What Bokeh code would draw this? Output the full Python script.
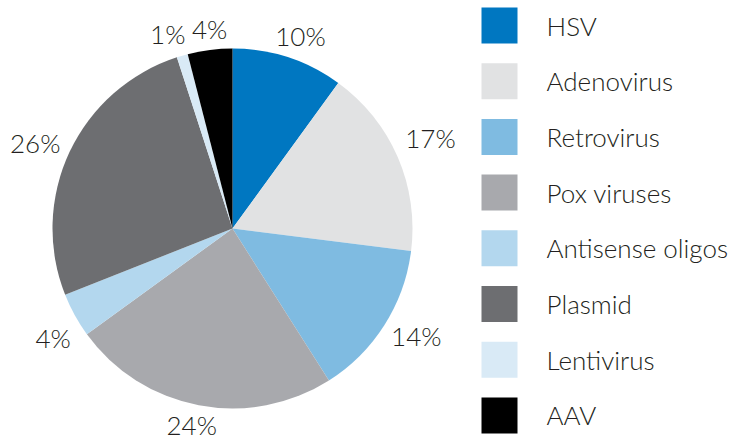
import math
from bokeh.plotting import figure
from bokeh.models import Range1d, ColumnDataSource
from bokeh.core.properties import value
from bokeh.embed import file_html
from bokeh.resources import INLINE

categories = ["HSV", "Adenovirus", "Retrovirus", "Pox viruses", "Antisense oligos",
              "Plasmid", "Lentivirus", "AAV"]
percents = [10, 17, 14, 24, 4, 26, 1, 4]
colors = ["#0077c1", "#e1e2e3", "#7fbbe1", "#a8a9ad", "#b3d7ee", "#6d6e71", "#d9eaf6", "#000000"]

# label nudges (pixels, screen right / up) for the percent labels
label_dx = [4, 8, 9, -2, 2, -10, -7, 3]
label_dy = [-4, 8, 3, 7, -10, -3, -4, -6]

W, H = 735, 441
FONT = value("Lato Light, Lato")
p = figure(width=W, height=H, output_backend="svg", toolbar_location=None,
           x_range=Range1d(0, W), y_range=Range1d(0, H), min_border=0)
p.axis.visible = False
p.grid.visible = False
p.outline_line_color = None

cx, cy, R, LR = 232, 213, 180, 207
total = sum(percents)
starts, ends, lx, ly, labels = [], [], [], [], []
cum = 0.0
for i, v in enumerate(percents):
    a0 = math.pi / 2 - 2 * math.pi * cum / total
    cum += v
    a1 = math.pi / 2 - 2 * math.pi * cum / total
    starts.append(a0)
    ends.append(a1)
    mid = (a0 + a1) / 2
    lx.append(cx + LR * math.cos(mid) + label_dx[i])
    ly.append(cy + LR * math.sin(mid) + label_dy[i])
    labels.append(f"{v}%")

src = ColumnDataSource(dict(start=starts, end=ends, color=colors, lx=lx, ly=ly, label=labels))
p.wedge(x=cx, y=cy, radius=R, start_angle="start", end_angle="end", direction="clock",
        fill_color="color", line_color=None, source=src)
p.text(x="lx", y="ly", text="label", source=src, text_align="center", text_baseline="middle",
       text_font=FONT, text_font_size="26px", text_color="#231f20")

n = len(categories)
step = 55.7
legy = [416 - i * step for i in range(n)]
p.rect(x=[499] * n, y=legy, width=36, height=36, fill_color=colors, line_color=None)
p.text(x=[546] * n, y=legy, text=categories, text_align="left", text_baseline="middle",
       text_font=FONT, text_font_size="26px", text_color="#231f20")

open("out.html", "w").write(file_html(p, INLINE))
